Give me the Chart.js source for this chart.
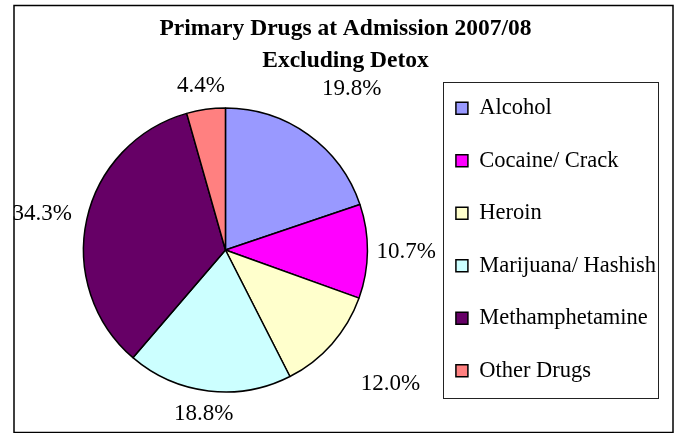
<!DOCTYPE html>
<html lang="en">
<head>
    <meta charset="UTF-8">
    <title>Primary Drugs at Admission 2007/08</title>
    <script src="https://cdn.jsdelivr.net/npm/chart.js@4/dist/chart.umd.min.js"></script>
    <style>
        body {
            margin: 0;
            background-color: #ffffff;
        }
        .chart-box {
            position: relative;
            width: 677px;
            height: 433px;
        }
    </style>
</head>
<body>
    <div class="chart-box">
        <canvas id="drugChart"></canvas>
    </div>

    <script>
        const drugLabels = ['Alcohol', 'Cocaine/ Crack', 'Heroin', 'Marijuana/ Hashish', 'Methamphetamine', 'Other Drugs'];
        const drugShares = [19.8, 10.7, 12.0, 18.8, 34.3, 4.4];
        const drugColors = ['#9999FF', '#FF00FF', '#FFFFCC', '#CCFFFF', '#660066', '#FF8080'];
        const titleLines = ['Primary Drugs at Admission 2007/08', 'Excluding Detox'];

        const serif = '"Liberation Serif", "Times New Roman", serif';

        // percent labels outside each slice
        const sliceLabels = {
            id: 'sliceLabels',
            afterDatasetsDraw(chart) {
                const ctx = chart.ctx;
                const meta = chart.getDatasetMeta(0);
                ctx.save();
                ctx.font = '23px ' + serif;
                ctx.fillStyle = '#000';
                ctx.textAlign = 'center';
                ctx.textBaseline = 'middle';
                meta.data.forEach((arc, i) => {
                    const mid = (arc.startAngle + arc.endAngle) / 2;
                    const dx = Math.cos(mid), dy = Math.sin(mid);
                    const text = drugShares[i].toFixed(1) + '%';
                    const w = ctx.measureText(text).width;
                    const h = 23;
                    // labels on the diagonals sit a bit further out
                    const diag = Math.pow(Math.sin(2 * mid), 2);
                    const dist = arc.outerRadius + 9 + 40 * diag;
                    const x = arc.x + dx * dist + dx * w / 2;
                    const y = arc.y + dy * dist + dy * h / 2;
                    ctx.fillText(text, x, y);
                });
                ctx.restore();
            }
        };

        // frames: outer border and legend box
        const frames = {
            id: 'frames',
            afterDraw(chart) {
                const ctx = chart.ctx;
                const hb = chart.legend.legendHitBoxes;
                ctx.save();
                ctx.strokeStyle = '#000';
                ctx.lineWidth = 1.5;
                ctx.strokeRect(14, 5.5, 659, 427);
                if (hb && hb.length) {
                    const last = hb[hb.length - 1];
                    const left = hb[0].left - 13;
                    const top = hb[0].top - 15;
                    const bottom = last.top + last.height + 16;
                    const right = Math.max(...hb.map(b => b.left + b.width)) + 2;
                    ctx.lineWidth = 1;
                    ctx.strokeStyle = '#222';
                    ctx.strokeRect(Math.round(left) + 0.5, Math.round(top) + 0.5,
                        Math.round(right - left), Math.round(bottom - top));
                }
                ctx.restore();
            }
        };

        new Chart(document.getElementById('drugChart'), {
            type: 'pie',
            data: {
                labels: drugLabels,
                datasets: [{
                    data: drugShares,
                    backgroundColor: drugColors,
                    borderColor: '#000',
                    borderWidth: 1.5,
                    radius: 142
                }]
            },
            options: {
                responsive: true,
                maintainAspectRatio: false,
                animation: false,
                layout: {
                    padding: { left: 25, right: 11, top: 0, bottom: 21 }
                },
                plugins: {
                    title: {
                        display: true,
                        text: titleLines,
                        color: '#000',
                        font: { family: serif, size: 23.5, weight: 'bold', lineHeight: '32px' },
                        padding: { top: 13, bottom: 11 }
                    },
                    legend: {
                        position: 'right',
                        align: 'end',
                        labels: {
                            color: '#000',
                            font: { family: serif, size: 22.5 },
                            boxWidth: 12,
                            boxHeight: 12,
                            padding: 30
                        }
                    },
                    tooltip: { enabled: false }
                }
            },
            plugins: [sliceLabels, frames]
        });
    </script>
</body>
</html>
